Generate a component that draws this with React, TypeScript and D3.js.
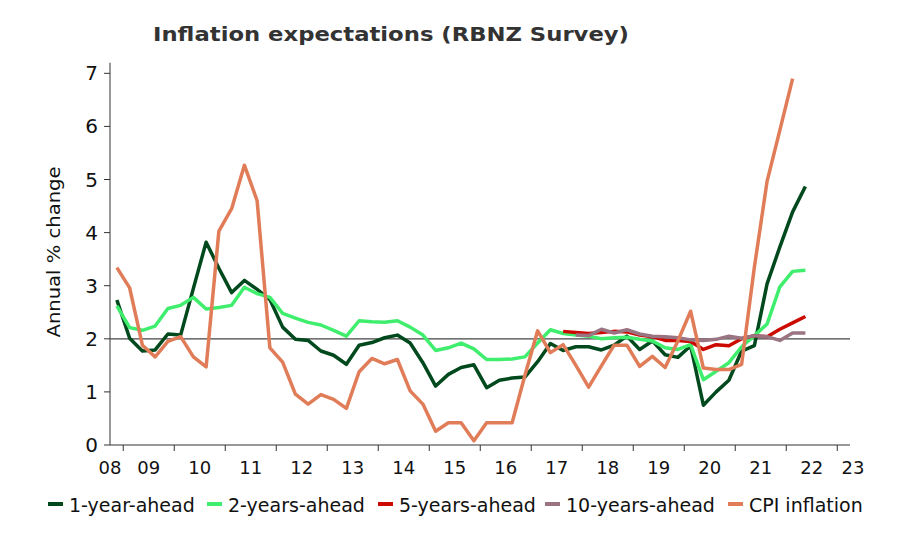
import React from 'react';
import * as d3 from 'd3';

// quarterly survey, first observation 2008Q4
const startYear = 2008;
const startQuarter = 4;

const oneYearAhead = [
  2.73, 2.01, 1.77, 1.79, 2.09, 2.07, 2.95, 3.82, 3.33, 2.87, 3.1, 2.93, 2.74, 2.22,
  1.99, 1.97, 1.77, 1.69, 1.52, 1.88, 1.93, 2.02, 2.07, 1.92, 1.55, 1.11, 1.33, 1.46,
  1.51, 1.08, 1.22, 1.26, 1.28, 1.57, 1.91, 1.78, 1.85, 1.85, 1.79, 1.88, 2.05, 1.8,
  1.96, 1.7, 1.65, 1.87, 0.75, 1.0, 1.22, 1.77, 1.87, 3.04, 3.73, 4.39, 4.87,
];

const twoYearsAhead = [
  2.62, 2.21, 2.16, 2.24, 2.57, 2.63, 2.78, 2.56, 2.59, 2.63, 2.97, 2.85, 2.78, 2.48,
  2.39, 2.31, 2.26, 2.16, 2.05, 2.34, 2.32, 2.31, 2.34, 2.22, 2.07, 1.78, 1.83, 1.92,
  1.81, 1.61, 1.61, 1.62, 1.66, 1.92, 2.17, 2.1, 2.07, 2.05, 2.0, 2.02, 2.03, 1.99,
  1.96, 1.83, 1.8, 1.89, 1.23, 1.39, 1.55, 1.85, 2.06, 2.28, 2.98, 3.27, 3.29,
];

// 5- and 10-year questions start later (index 35 = 2017Q3, 36 = 2017Q4)
const fiveYearsStart = 35;
const fiveYearsAhead = [
  2.14, 2.12, 2.1, 2.12, 2.14, 2.13, 2.07, 2.04, 1.97, 1.97, 1.95, 1.8, 1.89, 1.87,
  2.0, 2.06, 2.04, 2.18, 2.3, 2.42,
];

const tenYearsStart = 36;
const tenYearsAhead = [
  2.07, 2.06, 2.18, 2.11, 2.17, 2.09, 2.05, 2.04, 2.02, 1.98, 1.97, 1.99, 2.05, 2.01,
  2.06, 2.04, 1.97, 2.11, 2.11,
];

const cpiInflation = [
  3.34, 2.96, 1.88, 1.66, 1.95, 2.04, 1.66, 1.47, 4.03, 4.45, 5.27, 4.6, 1.83, 1.56,
  0.96, 0.77, 0.95, 0.86, 0.69, 1.38, 1.63, 1.53, 1.61, 1.02, 0.77, 0.26, 0.42, 0.42,
  0.08, 0.42, 0.42, 0.42, 1.31, 2.15, 1.74, 1.89, 1.5, 1.09, 1.49, 1.88, 1.88, 1.48,
  1.67, 1.46, 1.96, 2.52, 1.45, 1.42, 1.42, 1.52, 3.35, 4.97, 5.93, 6.9,
];

const yTicks = [0, 1, 2, 3, 4, 5, 6, 7];
const yearTicks = d3.range(2009, 2024);
const yearLabels = ['08', '09', '10', '11', '12', '13', '14', '15', '16', '17', '18', '19', '20', '21', '22', '23'];
const targetLine = 2;

const seriesNames = ['1-year-ahead', '2-years-ahead', '5-years-ahead', '10-years-ahead', 'CPI inflation'];
const seriesColors = ['#00491d', '#40ee6e', '#cc0a00', '#9a7482', '#e07c58'];

const FONT = 'DejaVu Sans, Verdana, sans-serif';

// mid-quarter time of the i-th observation
const quarterTime = (i: number) => {
  const q = startQuarter - 1 + i;
  return startYear + Math.floor(q / 4) + (q % 4) * 0.25 + 0.125;
};

const pad = (values: number[], start: number) =>
  values.map((v, k) => ({ t: quarterTime(start + k), v }));

export default function App() {
  const width = 900;
  const height = 560;

  const x = d3.scaleLinear().domain([2008.74, 2023.25]).range([110, 850]);
  const y = d3.scaleLinear().domain([0, 7.2]).range([445, 62.7]);

  const line = d3
    .line<{ t: number; v: number }>()
    .x((d) => x(d.t))
    .y((d) => y(d.v));

  const series = [
    pad(oneYearAhead, 0),
    pad(twoYearsAhead, 0),
    pad(fiveYearsAhead, fiveYearsStart),
    pad(tenYearsAhead, tenYearsStart),
    pad(cpiInflation, 0),
  ];

  const [x0, x1] = x.range();
  const [yBottom, yTop] = y.range();

  // label position: mid-year, clamped into the visible domain at the ends
  const labelX = (k: number) => {
    const yr = 2008 + k;
    const a = Math.max(yr, x.domain()[0]);
    const b = Math.min(yr + 1, x.domain()[1]);
    if (k === 0) return x(x.domain()[0]);
    if (k === yearLabels.length - 1) return x(x.domain()[1]) + 3;
    return x((a + b) / 2);
  };

  const legendX = [48, 207, 378, 545, 728];

  return (
    <svg
      width={width}
      height={height}
      style={{ position: 'absolute', left: 0, top: 0, background: '#fff' }}
      fontFamily={FONT}
    >
      <text
        x={391}
        y={41}
        textAnchor="middle"
        fontSize={20}
        fontWeight="bold"
        fill="#333"
        textLength={476}
        lengthAdjust="spacingAndGlyphs"
      >
        Inflation expectations (RBNZ Survey)
      </text>

      <text
        transform="translate(60,252) rotate(-90)"
        textAnchor="middle"
        fontSize={18}
        fill="#111"
        textLength={171}
        lengthAdjust="spacingAndGlyphs"
      >
        Annual % change
      </text>

      {/* y axis */}
      <line x1={x0} x2={x0} y1={yTop} y2={yBottom} stroke="#333" strokeWidth={1} />
      {yTicks.map((t) => (
        <g key={t}>
          <line x1={x0 - 6} x2={x0} y1={y(t)} y2={y(t)} stroke="#333" />
          <text x={98} y={y(t) + 7} textAnchor="end" fontSize={20} fill="#111">
            {t}
          </text>
        </g>
      ))}

      {/* x axis */}
      <line x1={x0} x2={x1} y1={yBottom} y2={yBottom} stroke="#333" strokeWidth={1} />
      {yearTicks.map((yr) => (
        <line key={yr} x1={x(yr)} x2={x(yr)} y1={yBottom} y2={yBottom + 6} stroke="#333" />
      ))}
      {yearLabels.map((lab, k) => (
        <text key={lab} x={labelX(k)} y={474} textAnchor="middle" fontSize={18} fill="#111">
          {lab}
        </text>
      ))}

      {/* 2% line */}
      <line x1={x0} x2={x1} y1={y(targetLine)} y2={y(targetLine)} stroke="#444" strokeWidth={1.3} />

      {series.map((s, k) => (
        <path
          key={seriesNames[k]}
          d={line(s) || ''}
          fill="none"
          stroke={seriesColors[k]}
          strokeWidth={3.5}
          strokeLinejoin="round"
        />
      ))}

      {/* legend */}
      {seriesNames.map((name, k) => (
        <g key={name} transform={`translate(${legendX[k]},0)`}>
          <line x1={0} x2={15} y1={504} y2={504} stroke={seriesColors[k]} strokeWidth={4} />
          <text x={21} y={511.5} fontSize={19} fill="#111">
            {name}
          </text>
        </g>
      ))}
    </svg>
  );
}
